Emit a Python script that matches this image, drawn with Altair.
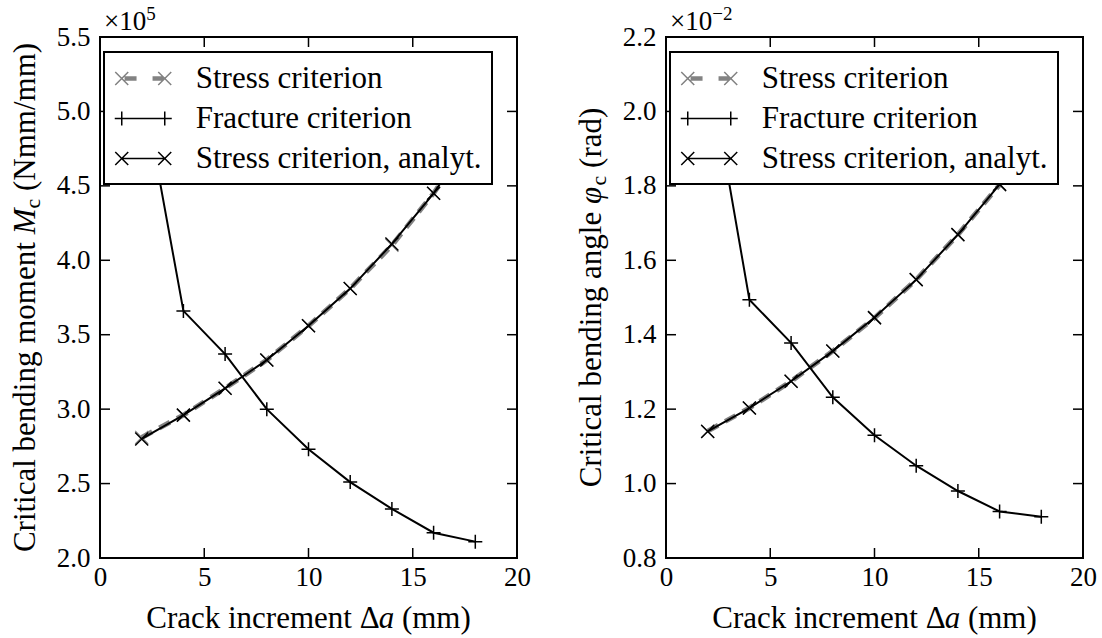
import altair as alt
import pandas as pd

FONT = "'Liberation Serif', 'Times New Roman', 'DejaVu Serif', serif"

# Crack increment (mm)
crack_mm = [2, 4, 6, 8, 10, 12, 14, 16, 18]

# Critical bending moment, in units of 1e5 Nmm/mm
moment_stress = [2.81, 2.96, 3.14, 3.33, 3.56, 3.81, 4.10, 4.45, 4.86]
moment_fracture = [5.20, 3.66, 3.37, 3.00, 2.73, 2.51, 2.33, 2.17, 2.11]
moment_analyt = [2.80, 2.96, 3.14, 3.33, 3.56, 3.81, 4.11, 4.45, 4.87]

# Critical bending angle, in units of 1e-2 rad
angle_stress = [1.141, 1.203, 1.275, 1.356, 1.445, 1.548, 1.669, 1.803, 1.96]
angle_fracture = [2.14, 1.494, 1.378, 1.232, 1.130, 1.048, 0.980, 0.925, 0.911]
angle_analyt = [1.140, 1.203, 1.275, 1.356, 1.446, 1.548, 1.669, 1.804, 1.96]

series_names = ["Stress criterion", "Fracture criterion", "Stress criterion, analyt."]

x_ticks = [0, 5, 10, 15, 20]
moment_ticks = [2.0, 2.5, 3.0, 3.5, 4.0, 4.5, 5.0, 5.5]
angle_ticks = [0.8, 1.0, 1.2, 1.4, 1.6, 1.8, 2.0, 2.2]

W, H = 417, 521
GRAY = "#828282"
TICK_LEN = 10

# marker glyphs for the data points
PLUS = "M-1,0H1M0,-1V1"
CROSS = "M-1,-1L1,1M-1,1L1,-1"


# legend glyphs, in units of half the legend symbol width (symbolSize 961 -> 15.5 px)
def _f(v):
    return f"{v:.3f}"


def hseg(x1, x2, y=0.0):
    return f"M{_f(x1)},{_f(y)}H{_f(x2)}"


def xglyph(cx, a):
    return (f"M{_f(cx - a)},{_f(-a)}L{_f(cx + a)},{_f(a)}"
            f"M{_f(cx - a)},{_f(a)}L{_f(cx + a)},{_f(-a)}")


def plusglyph(cx, a):
    return f"M{_f(cx - a)},0H{_f(cx + a)}M{_f(cx)},{_f(-a)}V{_f(a)}"


U = 15.5
END = 21.5 / U
ARM_X = 6.5 / U
ARM_P = 7.0 / U
DASH_ROWS = [-0.1, -0.04, 0.04, 0.1]
legend_stress = (xglyph(-END, ARM_X) + xglyph(END, ARM_X)
                 + "".join(hseg(-18.7 / U, -6.7 / U, r) + hseg(9.3 / U, 20.3 / U, r) for r in DASH_ROWS))
legend_fracture = hseg(-END, END) + plusglyph(-END, ARM_P) + plusglyph(END, ARM_P)
legend_analyt = hseg(-END, END) + xglyph(-END, ARM_X) + xglyph(END, ARM_X)

# advance widths (1/1000 em) of the serif face, used to set mixed-style titles
ROMAN_EM = {" ": 250, "(": 333, ")": 333, "/": 278, "C": 667, "N": 722, "a": 444, "b": 500,
            "c": 444, "d": 500, "e": 444, "g": 500, "i": 278, "k": 500, "l": 278, "m": 778,
            "n": 500, "o": 500, "r": 333, "t": 278, "\u0394": 612, "\u00d7": 564, "\u2212": 564}
ITALIC_EM = {"M": 833, "a": 500, "\u03c6": 600}


def run_width(text, size, italic=False):
    table = ITALIC_EM if italic else ROMAN_EM
    return sum(table.get(ch, 500) for ch in text) * size / 1000.0


def text_layer(text, x, y, size, italic=False, angle=0):
    mk = dict(font=FONT, fontSize=size, color="black", align="left",
              baseline="alphabetic", angle=angle)
    if italic:
        mk["fontStyle"] = "italic"
    return alt.Chart(pd.DataFrame({"label": [text]})).mark_text(**mk).encode(
        text="label:N", x=alt.value(x), y=alt.value(y))


def set_runs(pieces, start, base, vertical=False):
    """Lay out (text, italic, size, shift) runs one after another."""
    layers = []
    s = 0.0
    for text, italic, size, shift in pieces:
        lead = len(text) - len(text.lstrip(" "))
        pos = s + run_width(text[:lead], size, italic)
        body = text.strip(" ")
        if vertical:
            layers.append(text_layer(body, base + shift, start - pos, size, italic, angle=270))
        else:
            layers.append(text_layer(body, start + pos, base + shift, size, italic))
        s += run_width(text, size, italic)
    return layers


def total_width(pieces):
    return sum(run_width(t, sz, it) for t, it, sz, _ in pieces)


X_TITLE = [("Crack increment \u0394", False, 31, 0), ("a", True, 31, 0), (" (mm)", False, 31, 0)]


def panel(v_stress, v_fracture, v_analyt, y_ticks, y_title, exponent):
    df = pd.DataFrame({
        "crack": crack_mm * 3,
        "value": v_stress + v_fracture + v_analyt,
        "series": [s for s in series_names for _ in crack_mm],
    })
    xs = alt.Scale(domain=[0, 20], nice=False, zero=False)
    ys = alt.Scale(domain=[y_ticks[0], y_ticks[-1]], nice=False, zero=False)
    xa = alt.Axis(values=x_ticks, format="d", title=None, labelFlush=False,
                  labelPadding=6, labelBaseline="top")
    ya = alt.Axis(values=y_ticks, format=".1f", title=None, labelPadding=10)
    X = alt.X("crack:Q", scale=xs, axis=xa)
    Y = alt.Y("value:Q", scale=ys, axis=ya)

    base = alt.Chart(df)

    def only(name):
        return base.transform_filter(alt.datum.series == name)

    layers = [
        only(series_names[0]).mark_line(color=GRAY, strokeWidth=5, strokeDash=[12, 8]).encode(X, Y),
        only(series_names[0]).mark_point(shape=CROSS, size=169, color=GRAY, strokeWidth=1.2,
                                         filled=False, opacity=1).encode(X, Y),
        only(series_names[1]).mark_line(color="black", strokeWidth=2).encode(X, Y),
        only(series_names[1]).mark_point(shape=PLUS, size=196, color="black", strokeWidth=1.5,
                                         filled=False, opacity=1).encode(X, Y),
        only(series_names[2]).mark_line(color="black", strokeWidth=2).encode(X, Y),
        only(series_names[2]).mark_point(shape=CROSS, size=169, color="black", strokeWidth=1.5,
                                         filled=False, opacity=1).encode(X, Y),
    ]

    # inward ticks on all four sides
    xt = alt.Chart(pd.DataFrame({"crack": x_ticks}))
    yt = alt.Chart(pd.DataFrame({"value": y_ticks}))
    tick = dict(color="black", strokeWidth=1.5)
    layers += [
        xt.mark_rule(**tick).encode(X, y=alt.value(H), y2=alt.value(H - TICK_LEN)),
        xt.mark_rule(**tick).encode(X, y=alt.value(0), y2=alt.value(TICK_LEN)),
        yt.mark_rule(**tick).encode(Y, x=alt.value(0), x2=alt.value(TICK_LEN)),
        yt.mark_rule(**tick).encode(Y, x=alt.value(W), x2=alt.value(W - TICK_LEN)),
    ]

    legend = alt.Legend(
        title=None, orient="none", legendX=4, legendY=15, padding=10, rowPadding=8,
        symbolSize=961, symbolStrokeWidth=1.5, symbolOffset=12.75, labelOffset=36,
        labelFont=FONT, labelFontSize=31, labelColor="black", labelLimit=600,
        strokeColor="black", fillColor="white", cornerRadius=0, zindex=2,
    )
    layers.append(
        base.transform_filter("datum.crack < 0")
        .mark_point(filled=False, opacity=1, strokeWidth=1.5)
        .encode(
            X, Y,
            color=alt.Color("series:N", scale=alt.Scale(domain=series_names, range=[GRAY, "black", "black"]),
                            legend=legend),
            shape=alt.Shape("series:N", scale=alt.Scale(domain=series_names,
                                                        range=[legend_stress, legend_fracture, legend_analyt]),
                            legend=legend),
        )
    )

    # axis titles and the scale multiplier
    layers += set_runs(y_title, H / 2 + total_width(y_title) / 2, -65, vertical=True)
    layers += set_runs(X_TITLE, W / 2 - total_width(X_TITLE) / 2, H + 70)
    layers += set_runs(exponent, 4, -7.5)

    return alt.layer(*layers).properties(width=W, height=H)


left = panel(
    moment_stress, moment_fracture, moment_analyt, moment_ticks,
    [("Critical bending moment ", False, 31, 0), ("M", True, 31, 0), ("c", False, 22, 5),
     (" (Nmm/mm)", False, 31, 0)],
    [("\u00d710", False, 27, 0), ("5", False, 19, -10)],
)
right = panel(
    angle_stress, angle_fracture, angle_analyt, angle_ticks,
    [("Critical bending angle ", False, 31, 0), ("\u03c6", True, 31, 0), ("c", False, 22, 5),
     (" (rad)", False, 31, 0)],
    [("\u00d710", False, 27, 0), ("\u22122", False, 19, -10)],
)

chart = (
    alt.hconcat(left, right, spacing=149, bounds="flush")
    .resolve_scale(x="independent", y="independent", color="independent", shape="independent")
    .resolve_legend(color="independent", shape="independent")
    .configure_view(stroke="black", strokeWidth=2)
    .configure_axis(labelFont=FONT, labelFontSize=27, labelColor="black", domain=False,
                    ticks=False, tickSize=0, grid=False)
    .configure_legend(strokeWidth=2)
    .properties(padding={"left": 8, "top": 3, "right": 4, "bottom": 3}, background="white")
)

chart.save("out.html", embed_options={"renderer": "svg", "actions": False})
